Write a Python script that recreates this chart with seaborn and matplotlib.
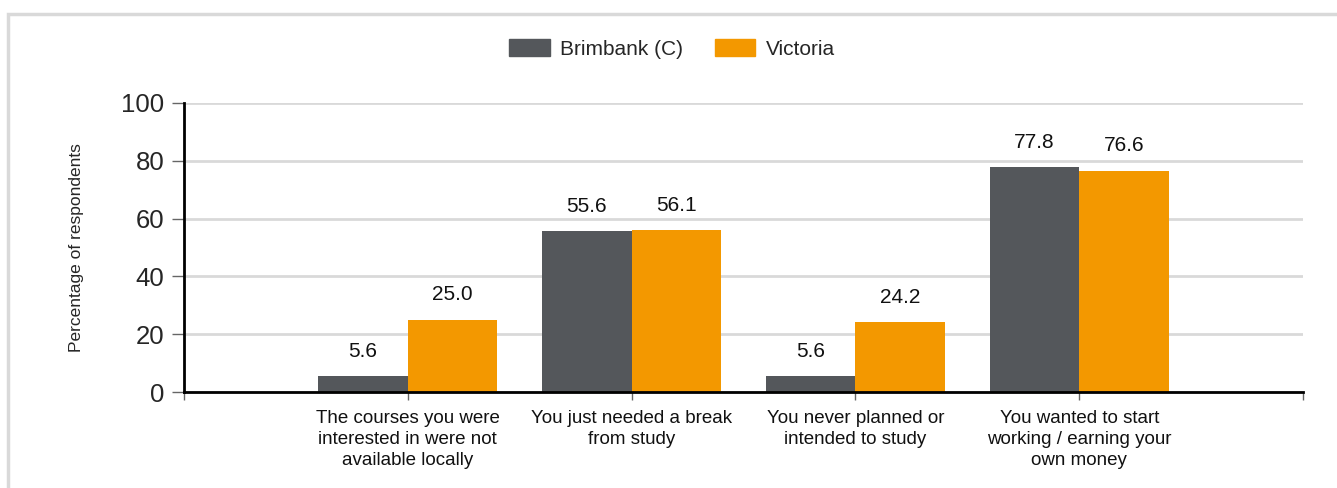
import pandas as pd
import matplotlib
matplotlib.use("Agg")
from matplotlib import pyplot as plt
from matplotlib.patches import Rectangle
import seaborn as sns

categories = ["The courses you were\ninterested in were not\navailable locally",
              "You just needed a break\nfrom study",
              "You never planned or\nintended to study",
              "You wanted to start\nworking / earning your\nown money"]
brimbank = [5.6, 55.6, 5.6, 77.8]
victoria = [25.0, 56.1, 24.2, 76.6]
series = ["Brimbank (C)", "Victoria"]
colors = ["#54575b", "#f39800"]

df = pd.DataFrame({
    "reason": categories * 2,
    "area": [series[0]] * 4 + [series[1]] * 4,
    "value": brimbank + victoria,
})

sns.set_style("white")
plt.rcParams["font.family"] = ["Liberation Sans", "DejaVu Sans"]

fig = plt.figure(figsize=(13.37, 4.88), dpi=100)
ax = fig.add_axes([184 / 1337, 1 - 392 / 488, (1303 - 184) / 1337, (392 - 103) / 488])

sns.barplot(data=df, x="reason", y="value", hue="area", palette=colors,
            width=0.8, saturation=1, linewidth=0, ax=ax, legend=False)

for cont in ax.containers:
    ax.bar_label(cont, fmt="%.1f", padding=11, fontsize=15, color="#111111")

ax.set_xlim(-1, 4)
ax.set_ylim(0, 100)
ax.set_yticks([0, 20, 40, 60, 80, 100])
ax.set_xticks([-1, 0, 1, 2, 3, 4])
ax.set_xticklabels([""] + categories + [""], fontsize=13.5, color="#111111",
                   linespacing=1.3)
ax.tick_params(axis="y", left=True, labelsize=18.5, length=9, width=1, color="#666666", pad=5)
ax.tick_params(axis="x", bottom=True, length=6, width=1, color="#666666", pad=7)
ax.yaxis.grid(True, color="#d9d9d9", linewidth=2)
ax.set_axisbelow(True)
ax.set_xlabel("")
ax.set_ylabel("Percentage of respondents", fontsize=12.5, labelpad=27)
for s in ["top", "right"]:
    ax.spines[s].set_visible(False)
for s in ["left", "bottom"]:
    ax.spines[s].set_color("black")
    ax.spines[s].set_linewidth(2)

handles = [Rectangle((0, 0), 1, 1, color=c) for c in colors]
fig.legend(handles, series, loc="center", bbox_to_anchor=(672 / 1337, 1 - 49 / 488),
           ncol=2, frameon=False, fontsize=15, handlelength=1.95, handleheight=0.85,
           columnspacing=1.5, handletextpad=0.5)

fig.patches.append(Rectangle((8 / 1337, -0.1), 1.2, 1.1 - 14 / 488, transform=fig.transFigure,
                             fill=False, edgecolor="#d9d9d9", linewidth=2.5))

fig.savefig("out.png", dpi=100)
